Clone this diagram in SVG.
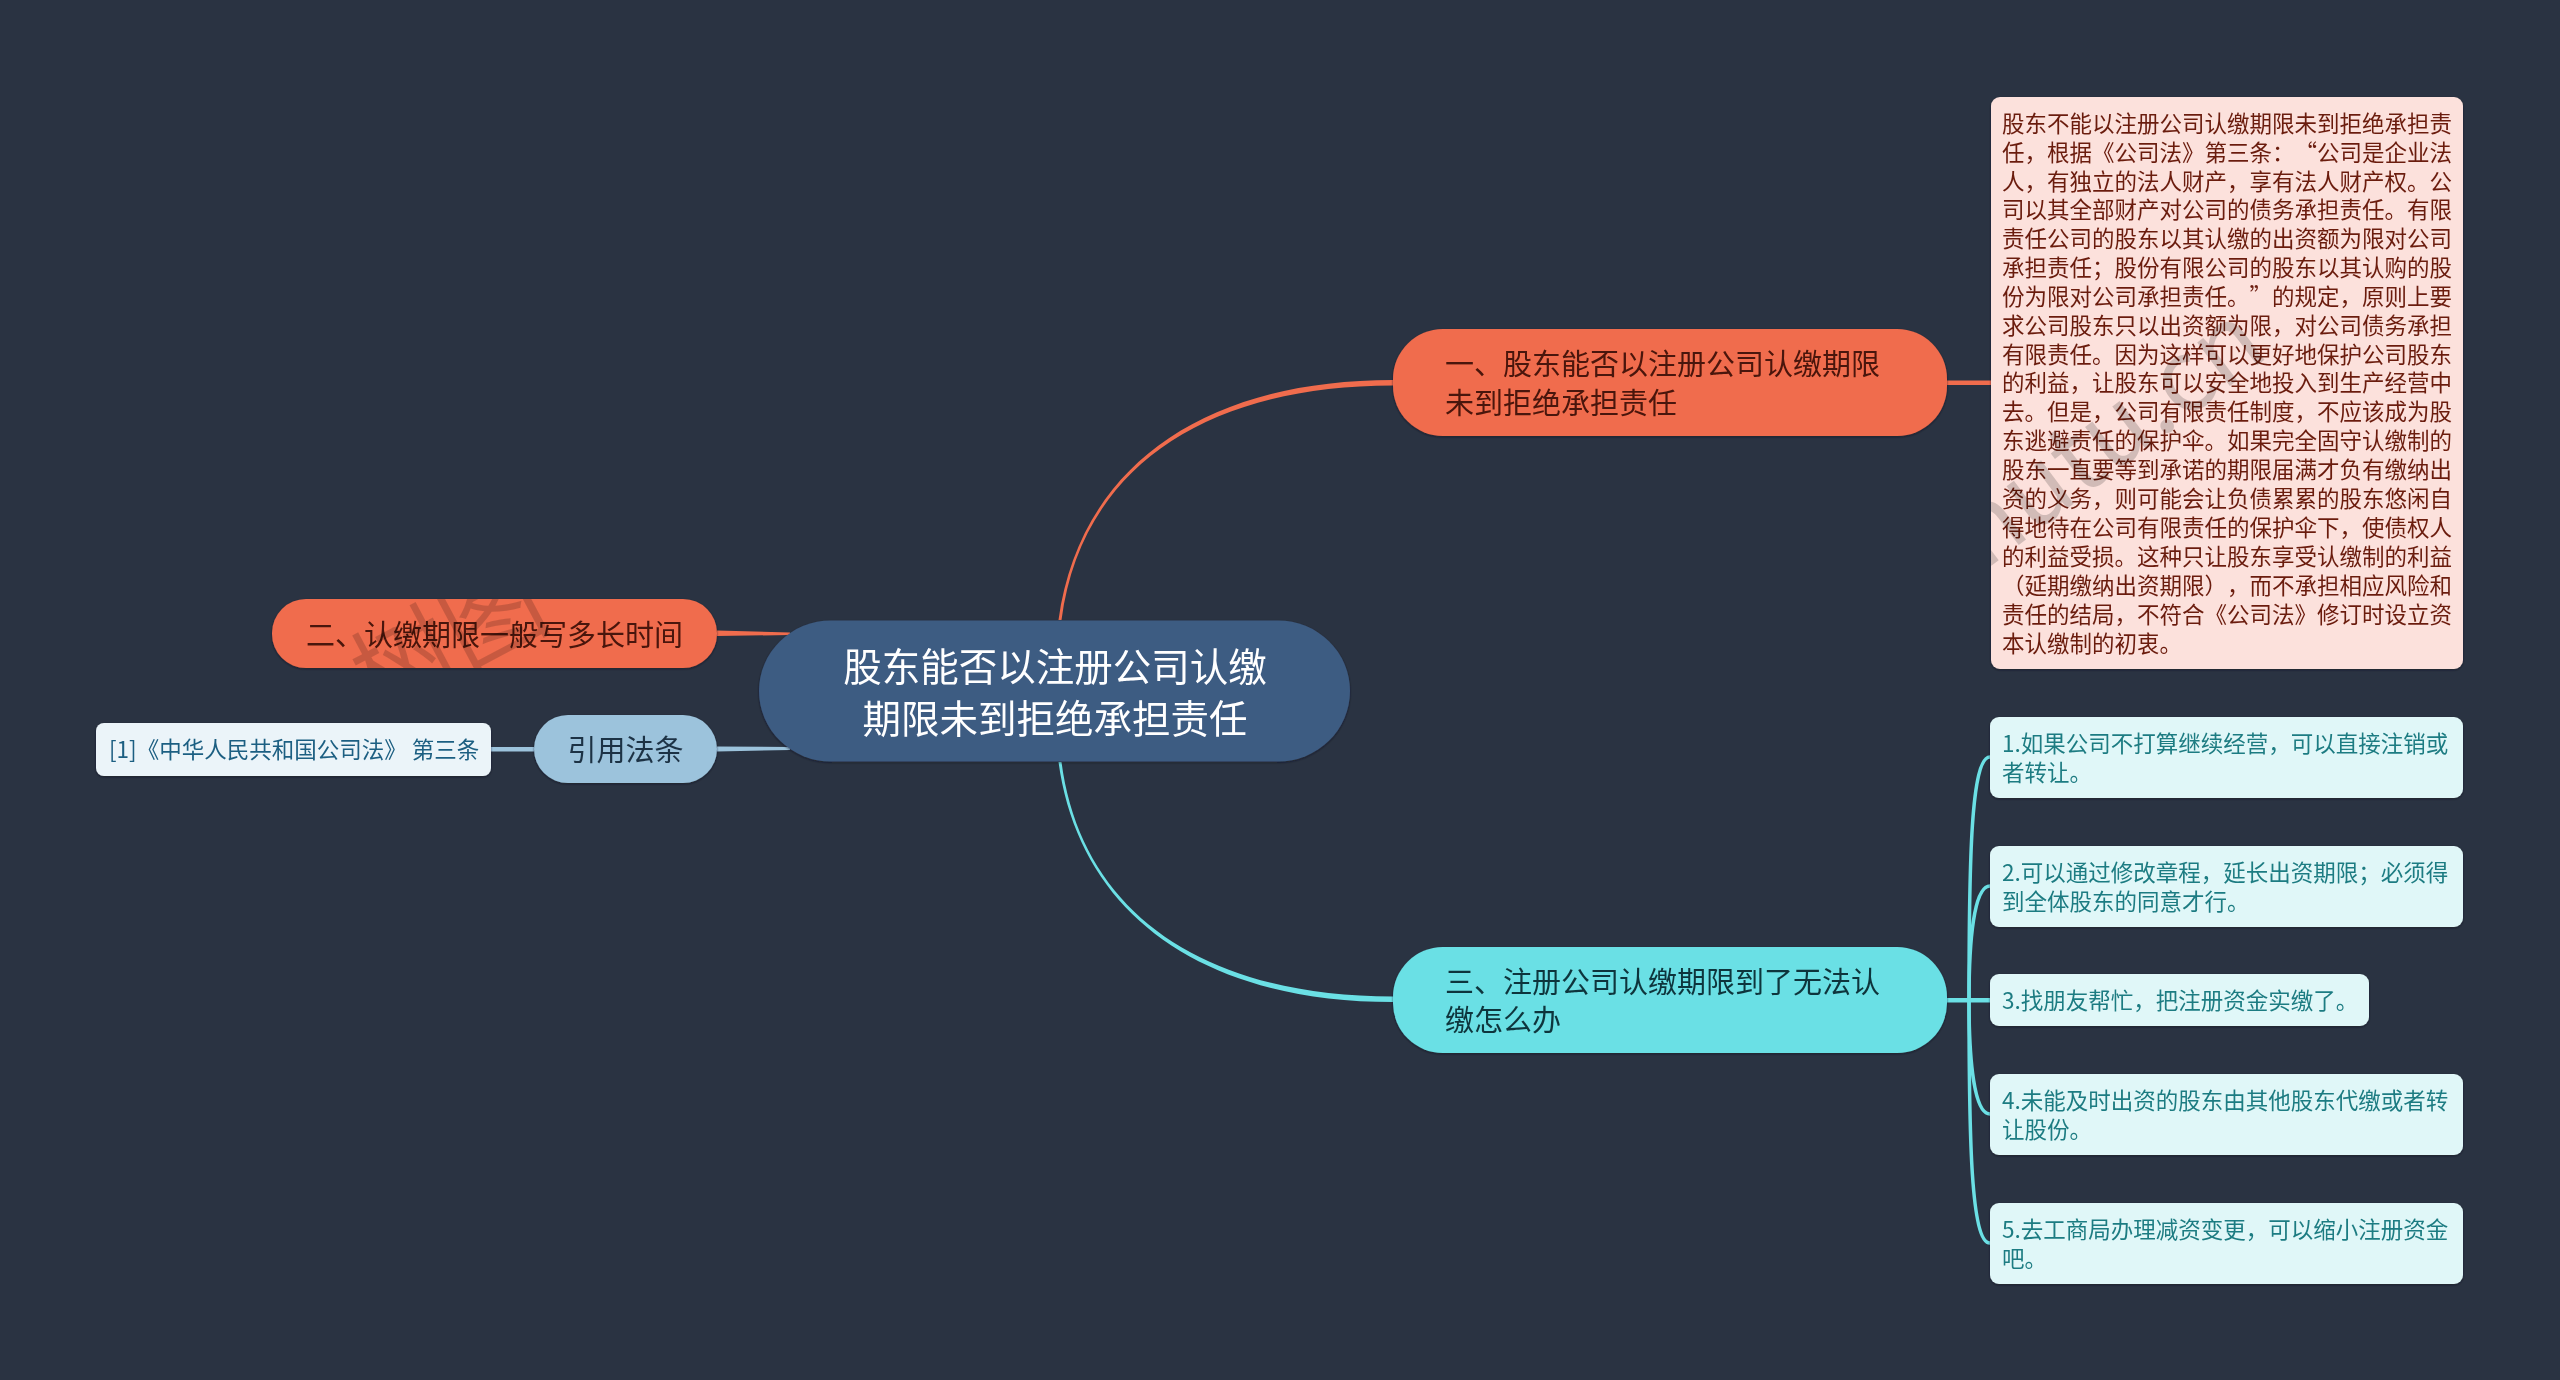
<svg xmlns="http://www.w3.org/2000/svg" width="2560" height="1380" viewBox="0 0 2560 1380" lang="zh-CN">
<style>
text{font-family:"Noto Sans CJK SC","Noto Sans",sans-serif;dominant-baseline:central;text-spacing-trim:space-all;font-feature-settings:"palt" 0,"chws" 0,"halt" 0;font-kerning:none}
.n{filter:url(#s)}
.t29{font-size:29px}.t22{font-size:22.5px}
.dr{fill:#4a1409}.sr{fill:#6b1c0e}.te{fill:#1e7c82}
.l{fill:none;stroke-linecap:butt}
.wm{font-size:100px;font-weight:400;fill:#000;fill-opacity:.17}
</style>
<defs><filter id="s" x="-5%" y="-10%" width="110%" height="120%"><feDropShadow dx="0" dy="1" stdDeviation="1" flood-color="#0d1420" flood-opacity=".6"/></filter>
<clipPath id="c2"><rect x="272" y="599" width="445" height="69" rx="34"/></clipPath>
<clipPath id="cd"><rect x="1991" y="97" width="472" height="572" rx="9"/></clipPath></defs>
<rect width="2560" height="1380" fill="#2a3342"/>
<g id="connectors">
<path d="M1058.500 620C1079 470 1200 380 1393 380L1393 385.500C1203 385.500 1081 470 1061.500 620Z" fill="#f06c4d"/>
<path d="M1058.500 762C1079 912 1200 1002 1393 1002L1393 996.500C1203 996.500 1081 912 1061.500 762Z" fill="#6be0e5"/>
<path d="M717 630.500L790 632.500V635L717 636Z" fill="#f06c4d"/>
<path d="M717 746.500L790 747V750L717 751.500Z" fill="#9cc3dc"/>
<rect x="491" y="747" width="43" height="4.500" fill="#9cc3dc"/>
<rect x="1947" y="380.500" width="44" height="4.500" fill="#f06c4d"/>
<rect x="1947" y="998" width="44" height="4.500" fill="#6be0e5"/>
<path class="l" stroke="#6be0e5" stroke-width="3.500" d="M1969 1000C1969 860 1971 757 1990 757"/>
<path class="l" stroke="#6be0e5" stroke-width="3.500" d="M1969 1000C1969 940 1974 886 1990 886"/>
<path class="l" stroke="#6be0e5" stroke-width="3.500" d="M1969 1000C1969 1060 1974 1114 1990 1114"/>
<path class="l" stroke="#6be0e5" stroke-width="3.500" d="M1969 1000C1969 1140 1971 1243 1990 1243"/>
</g>
<g id="root" class="n"><rect x="759" y="620.500" width="591" height="141" rx="72" fill="#3e5b82"/>
<text x="1055" y="663.500" font-size="38.500" fill="#fff" text-anchor="middle">股东能否以注册公司认缴</text>
<text x="1055" y="715.500" font-size="38.500" fill="#fff" text-anchor="middle">期限未到拒绝承担责任</text></g>
<g id="n1" class="n"><rect x="1393" y="329" width="554" height="107" rx="50" fill="#f06c4d"/>
<text class="t29 dr" x="1445" y="361.500">一、股东能否以注册公司认缴期限</text>
<text class="t29 dr" x="1445" y="400.500">未到拒绝承担责任</text></g>
<g id="n2" class="n"><rect x="272" y="599" width="445" height="69" rx="34" fill="#f06c4d"/>
<text class="t29 dr" x="306" y="632.500">二、认缴期限一般写多长时间</text></g>
<g id="n3" class="n"><rect x="534" y="715" width="183" height="68" rx="34" fill="#9cc3dc"/>
<text class="t29" fill="#1f3345" x="567.500" y="747.500">引用法条</text></g>
<g id="n4" class="n"><rect x="96" y="723" width="395" height="53" rx="8" fill="#ebf4f9"/>
<text class="t22" fill="#1d5f82" x="109" y="748" xml:space="preserve">[1]《中华人民共和国公司法》 第三条</text></g>
<g id="n5" class="n"><rect x="1393" y="947" width="554" height="106" rx="50" fill="#6be0e5"/>
<text class="t29" fill="#10363c" x="1445" y="979.500">三、注册公司认缴期限到了无法认</text>
<text class="t29" fill="#10363c" x="1445" y="1017.500">缴怎么办</text></g>
<g id="detail" class="n"><rect x="1991" y="97" width="472" height="572" rx="9" fill="#fce1dc"/>
<g class="t22 sr">
<text x="2002" y="121.500">股东不能以注册公司认缴期限未到拒绝承担责</text>
<text x="2002" y="150.500">任，根据《公司法》第三条：“公司是企业法</text>
<text x="2002" y="179.500">人，有独立的法人财产，享有法人财产权。公</text>
<text x="2002" y="207.500">司以其全部财产对公司的债务承担责任。有限</text>
<text x="2002" y="236.500">责任公司的股东以其认缴的出资额为限对公司</text>
<text x="2002" y="265.500">承担责任；股份有限公司的股东以其认购的股</text>
<text x="2002" y="294.500">份为限对公司承担责任。”的规定，原则上要</text>
<text x="2002" y="323.500">求公司股东只以出资额为限，对公司债务承担</text>
<text x="2002" y="352.500">有限责任。因为这样可以更好地保护公司股东</text>
<text x="2002" y="380.500">的利益，让股东可以安全地投入到生产经营中</text>
<text x="2002" y="409.500">去。但是，公司有限责任制度，不应该成为股</text>
<text x="2002" y="438.500">东逃避责任的保护伞。如果完全固守认缴制的</text>
<text x="2002" y="467.500">股东一直要等到承诺的期限届满才负有缴纳出</text>
<text x="2002" y="496.500">资的义务，则可能会让负债累累的股东悠闲自</text>
<text x="2002" y="525.500">得地待在公司有限责任的保护伞下，使债权人</text>
<text x="2002" y="554.500">的利益受损。这种只让股东享受认缴制的利益</text>
<text x="2002" y="583.500">（延期缴纳出资期限），而不承担相应风险和</text>
<text x="2002" y="612.500">责任的结局，不符合《公司法》修订时设立资</text>
<text x="2002" y="641.500">本认缴制的初衷。</text>
</g></g>
<g id="s1" class="n"><rect x="1990" y="717" width="473" height="81" rx="9" fill="#e0f7f8"/>
<text class="t22 te" x="2002" y="741.500">1.如果公司不打算继续经营，可以直接注销或</text>
<text class="t22 te" x="2002" y="770.500">者转让。</text></g>
<g id="s2" class="n"><rect x="1990" y="846" width="473" height="81" rx="9" fill="#e0f7f8"/>
<text class="t22 te" x="2002" y="870.500">2.可以通过修改章程，延长出资期限；必须得</text>
<text class="t22 te" x="2002" y="899.500">到全体股东的同意才行。</text></g>
<g id="s3" class="n"><rect x="1990" y="974" width="379" height="52" rx="9" fill="#e0f7f8"/>
<text class="t22 te" x="2002" y="998.500">3.找朋友帮忙，把注册资金实缴了。</text></g>
<g id="s4" class="n"><rect x="1990" y="1074" width="473" height="81" rx="9" fill="#e0f7f8"/>
<text class="t22 te" x="2002" y="1098.500">4.未能及时出资的股东由其他股东代缴或者转</text>
<text class="t22 te" x="2002" y="1127.500">让股份。</text></g>
<g id="s5" class="n"><rect x="1990" y="1203" width="473" height="81" rx="9" fill="#e0f7f8"/>
<text class="t22 te" x="2002" y="1227.500">5.去工商局办理减资变更，可以缩小注册资金</text>
<text class="t22 te" x="2002" y="1256.500">吧。</text></g>
<g id="watermarks">
<g clip-path="url(#c2)"><text class="wm" text-anchor="middle" transform="translate(445 632) rotate(-28)">树图</text></g>
<g clip-path="url(#cd)"><text class="wm" text-anchor="end" transform="translate(2245 320) rotate(-37)">shutu.cn</text></g>
</g>
</svg>
